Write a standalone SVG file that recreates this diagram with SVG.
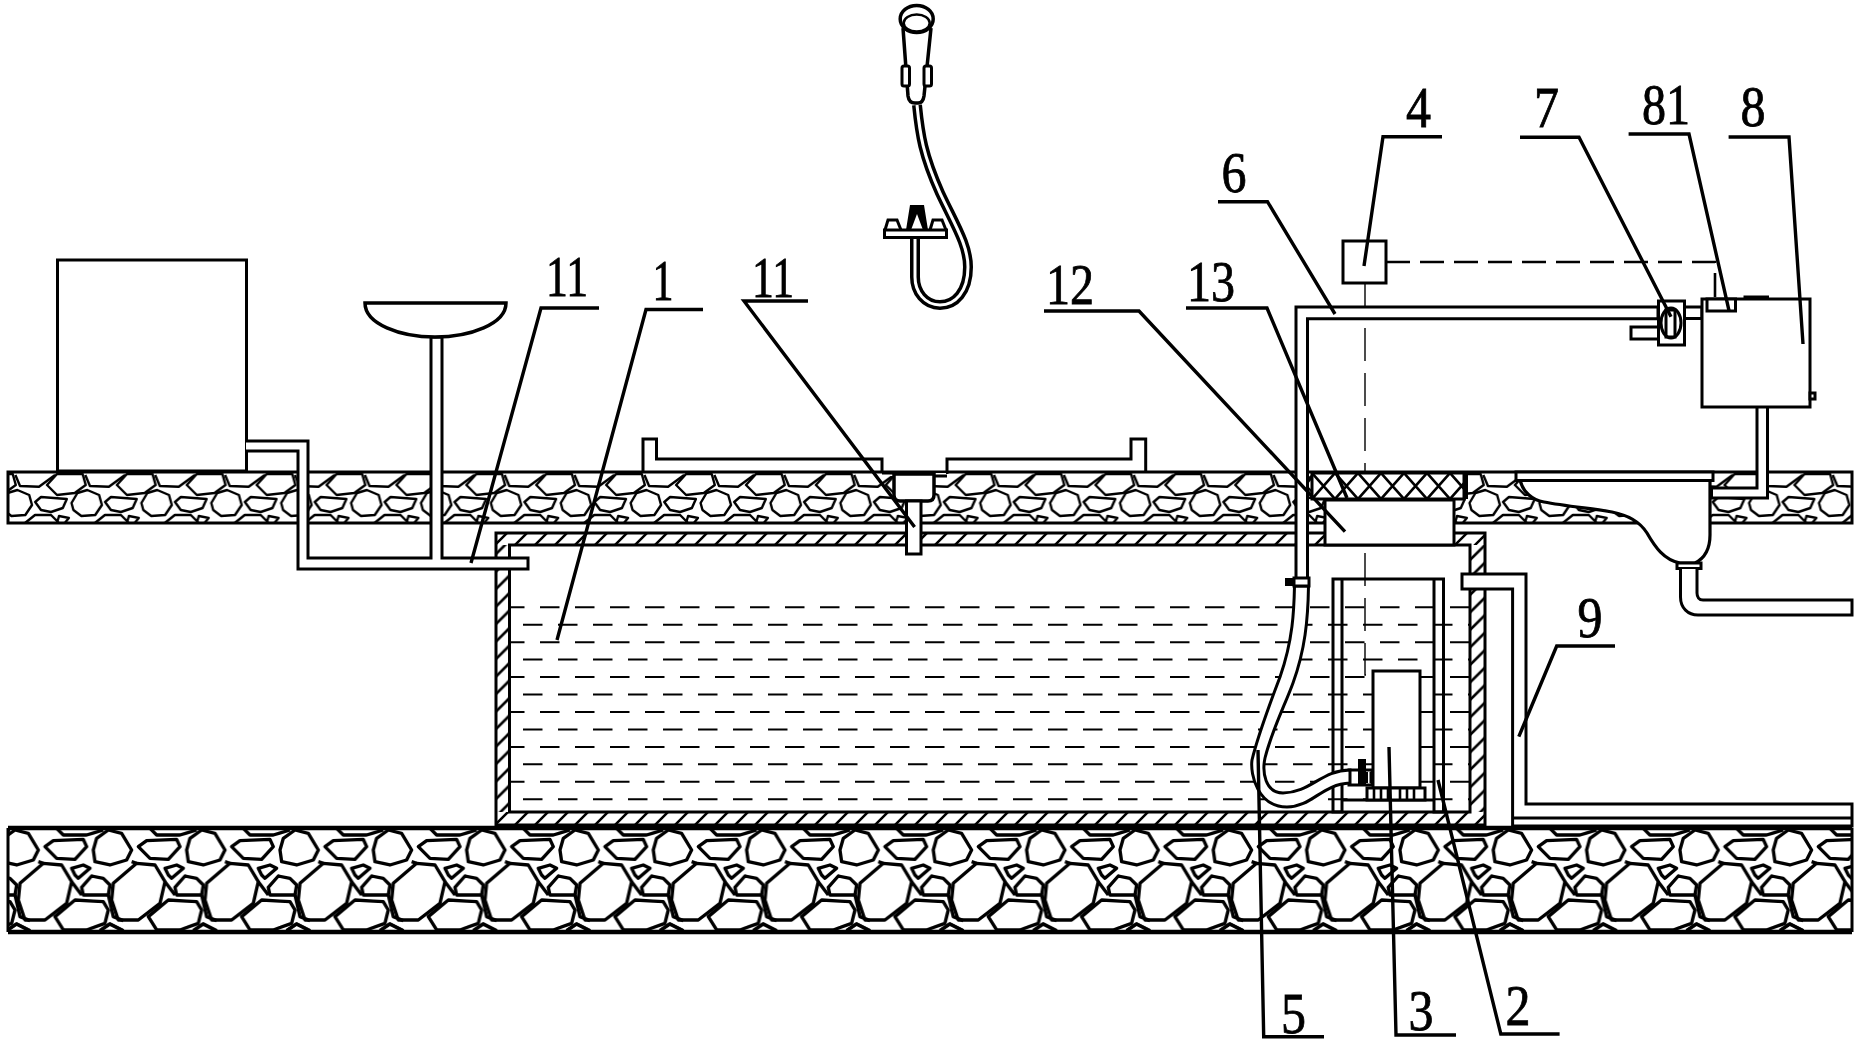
<svg xmlns="http://www.w3.org/2000/svg" width="1854" height="1047" viewBox="0 0 1854 1047">
<style>
.l{fill:none;stroke:#000;stroke-width:3;stroke-linejoin:miter}
.w{fill:#fff;stroke:#000;stroke-width:3}
.k{fill:#000;stroke:none}
.lead{fill:none;stroke:#000;stroke-width:3.4}
.t{font-family:"Liberation Serif","Times New Roman",serif;font-size:56px;text-anchor:middle;fill:#000;stroke:#000;stroke-width:.8}
.s1{fill:none;stroke:#000;stroke-width:2.4;stroke-linejoin:round}
.s2{fill:none;stroke:#000;stroke-width:10;stroke-linejoin:round}
.water{fill:none;stroke:#000;stroke-width:2;stroke-dasharray:19.5 15.5}
</style>
<defs>
<g id="tileTop" class="s1">
<polygon points="3.6,43 9.5,33 19.4,30 31.2,35 34,45 27.3,55 13.4,56 5.5,50"/>
<polygon points="37.2,42 43,37 68.8,39 64.8,48 53,52 43,50"/>
<polygon points="49,25 59,14 84.6,14 87.7,25 76.7,33 59,35"/>
<polyline points="17.4,15 22,26 41,26.7 57,15"/>
<polyline points="27,63 37,55 53,55 61,63"/>
<polyline points="59,63 61,56 70.8,58 66.8,63"/>
</g>
<g id="tileBottom" class="s2">
<polygon points="280,150 290,115 325,90 365,100 395,150 380,180 330,195 285,185"/>
<polygon points="415,140 440,122 530,118 540,140 505,178 450,175"/>
<polygon points="495,205 530,195 550,205 515,235 505,225"/>
<polygon points="340,250 410,190 465,195 495,245 480,310 415,360 355,360 335,300"/>
<polygon points="525,262 555,228 590,235 610,255 605,285 530,285"/>
<polygon points="445,350 505,300 590,305 605,330 595,370 540,390 470,390"/>
<polyline points="450,85 470,105 540,105 590,90"/>
<polyline points="495,245 525,285"/>
<polyline points="395,185 410,190"/>
<polyline points="605,285 620,350 650,362"/>
<polyline points="580,392 610,372 650,392"/>
<polyline points="300,392 330,372 370,392"/>
</g>
<pattern id="stoneTop" patternUnits="userSpaceOnUse" x="-2" y="460" width="69.9" height="70">
<use href="#tileTop"/><use href="#tileTop" x="-69.9"/><use href="#tileTop" x="69.9"/>
</pattern>
<pattern id="stoneBottom" patternUnits="userSpaceOnUse" x="0" y="800" width="93.33" height="150">
<use href="#tileBottom" transform="translate(-93.33 0) scale(.3333)"/>
<use href="#tileBottom" transform="translate(-186.67 0) scale(.3333)"/>
<use href="#tileBottom" transform="scale(.3333)"/>
</pattern>
<pattern id="hatch" patternUnits="userSpaceOnUse" x="0" y="0" width="20" height="20">
<path d="M-2,22 L22,-2 M-12,12 L12,-12 M8,32 L32,8" fill="none" stroke="#000" stroke-width="2.5"/>
</pattern>
<pattern id="hatchSide" patternUnits="userSpaceOnUse" x="0" y="0" width="17.5" height="17.5">
<path d="M-2,19.5 L19.5,-2 M-10,10 L10,-10 M8,27 L27,8" fill="none" stroke="#000" stroke-width="2.6"/>
</pattern>
<pattern id="cross" patternUnits="userSpaceOnUse" x="1312" y="473" width="23" height="26">
<path d="M0,0 L23,26 M23,0 L0,26" fill="none" stroke="#000" stroke-width="2.6"/>
</pattern>
</defs>
<rect width="1854" height="1047" fill="#fff"/>

<g id="ground-upper">
<rect x="8" y="472" width="1844" height="51" fill="url(#stoneTop)"/>
<path class="l" d="M8,472 H1852 V523 H8 Z"/>
</g>
<g id="ground-lower">
<rect x="8" y="828" width="1844" height="104" fill="url(#stoneBottom)"/>
<path d="M8,828 H1852 M8,932 H1852" fill="none" stroke="#000" stroke-width="4.5"/>
<path class="l" d="M8,828 V932 M1852,828 V932"/>
</g>

<g id="node-1">
<rect x="496" y="533" width="989" height="12" fill="url(#hatch)"/>
<rect x="496" y="812" width="989" height="13" fill="url(#hatch)"/>
<rect x="496" y="545" width="13.5" height="267" fill="url(#hatchSide)"/>
<rect x="1470" y="545" width="15" height="267" fill="url(#hatchSide)"/>
<path d="M496,533 H1485 V825 H496 Z M509.5,545 V812 H1470 V545 Z" fill="none" stroke="#000" stroke-width="3"/>
<g id="water">
<path class="water" d="M509,607.3 H1470 M509,642.2 H1470 M509,677.1 H1470 M509,712 H1470 M509,746.9 H1470 M509,781.8 H1470" stroke-dashoffset="4"/>
<path class="water" d="M509,624.7 H1470 M509,659.6 H1470 M509,694.5 H1470 M509,729.4 H1470 M509,764.3 H1470 M509,799.2 H1470" stroke-dashoffset="21"/>
</g>
</g>

<g id="node-2">
<path d="M1333,579 H1443.5 V812 H1434 V579 H1342 V812 H1333 Z" fill="none" stroke="#000" stroke-width="3"/>
<path class="l" d="M1342,800 H1434"/>
</g>

<g id="sensor-line">
<path d="M1365,283 V675 H1374" fill="none" stroke="#000" stroke-width="1.4" stroke-dasharray="33 12"/>
<path d="M1386,262 H1715 V298" fill="none" stroke="#000" stroke-width="2.6" stroke-dasharray="24 10"/>
</g>

<g id="node-3">
<rect class="w" x="1373" y="671" width="47" height="117"/>
<rect class="w" x="1367" y="788" width="58" height="12"/>
<path d="M1374,789 V799 M1381,789 V799 M1388,789 V799 M1400,789 V799 M1407,789 V799 M1414,789 V799" fill="none" stroke="#000" stroke-width="2.6"/>
<rect class="w" x="1349" y="770" width="23" height="15"/>
<rect class="k" x="1358" y="759" width="8" height="26"/>
<path d="M1367,772 V783 M1370.5,772 V783" fill="none" stroke="#000" stroke-width="2"/>
</g>

<g id="node-6">
<path class="w" d="M1296,580 V307 H1658 V318.7 H1307.5 V580"/>
</g>

<g id="node-5">
<path class="w" d="M1294.5,586 C1294,610 1293,640 1280,677 C1272,698 1258,735 1252,760 C1250,775 1258,807 1287,807 C1312,807 1322,784 1350,783 V770 C1322,770 1310,793 1283,793 C1265,793 1262,772 1265,758 C1272,730 1285,705 1293,683 C1305,650 1308,620 1308.5,586 Z"/>
<rect class="k" x="1285" y="578" width="9" height="8"/>
<rect class="w" x="1294" y="578" width="15" height="8"/>
</g>

<g id="node-9">
<path class="w" d="M1462,574 H1526 V804 H1852 V826 H1512.6 V589 H1462 Z"/>
<path d="M1512.6,818 H1852" class="l"/>
</g>

<g id="pipe-sink-left">
<rect class="w" x="57.5" y="260" width="189" height="211"/>
<path d="M246,441 H308 V558 H431 V337 H442 V558 H528 V569 H298 V451 H246" fill="#fff" stroke="#000" stroke-width="3"/>
<path d="M365,303 H506 C506,324 470,337 435,337 C400,337 365,324 365,303 Z" fill="#fff" stroke="#000" stroke-width="3.5"/>
</g>

<g id="node-11-drain">
<path class="l" d="M643,472 V439 H656.5 V459 H882 V472 M947,474 V459 H1131 V439 H1145.7 V472"/>
<rect x="883" y="473" width="63" height="3" fill="#fff"/>
<path d="M882,473 H894 M934,476 H947" class="l"/>
<path d="M894,474 H934 V495 Q934,501 928,501 H900 Q894,501 894,495 Z" fill="#fff" stroke="#000" stroke-width="3.5"/>
<rect class="w" x="906.5" y="501" width="14.5" height="53"/>
</g>

<g id="node-13">
<rect x="1312" y="473" width="152" height="26" fill="#fff"/>
<rect x="1312" y="473" width="152" height="26" fill="url(#cross)" stroke="#000" stroke-width="3"/>
<rect class="k" x="1464" y="473" width="4" height="26"/>
</g>
<g id="node-12">
<rect class="w" x="1325" y="500" width="129" height="45"/>
</g>

<g id="node-toilet">
<path d="M1520,480 C1523,492 1532,500 1544,502 C1565,506 1595,509 1612,512 C1628,515 1640,522 1647,533 C1655,547 1664,560 1680,563 H1695 C1705,558 1710,548 1710,535 V480 Z" fill="#fff" stroke="#000" stroke-width="3.2"/>
<rect class="w" x="1516" y="472" width="197" height="8.5"/>
<rect class="w" x="1677" y="563" width="24" height="5.5"/>
<path class="w" d="M1680.5,569 V597 C1680.5,608 1688,615 1698,615 H1852 V600 H1703 C1699,600 1697,597 1697,593 V569"/>
</g>

<g id="node-8">
<path class="w" d="M1757,406 V488 H1711.5 V498 H1767.5 V406 Z"/>
<rect class="w" x="1684" y="307" width="18" height="11.5"/>
<rect class="w" x="1702" y="299" width="108" height="108"/>
<path class="k" d="M1743.5,295.5 H1769 V299 H1743.5 Z"/>
<rect class="w" x="1810" y="393" width="5" height="6"/>
</g>
<g id="node-81">
<rect class="w" x="1707" y="299" width="28.5" height="12"/>
</g>
<g id="node-7">
<rect class="w" x="1631" y="327" width="28" height="12"/>
<rect class="w" x="1658.5" y="301" width="26" height="44"/>
<ellipse class="w" cx="1671" cy="323" rx="10" ry="15"/>
<rect class="l" x="1666" y="310" width="9" height="27"/>
</g>
<g id="node-4">
<rect class="w" x="1343" y="241" width="43" height="42"/>
</g>

<g id="shower">
<path d="M917,105 C920,135 923,155 940,193 C955,225 968,245 968,267 C968,292 955,305 940,305 C925,305 915,292 915,277 V237" fill="none" stroke="#000" stroke-width="10"/>
<path d="M917,105 C920,135 923,155 940,193 C955,225 968,245 968,267 C968,292 955,305 940,305 C925,305 915,292 915,277 V237" fill="none" stroke="#fff" stroke-width="3"/>
<path d="M903,28 L908,96 Q909,103 915,103 H918 Q923,103 924,96 L931,28" fill="#fff" stroke="#000" stroke-width="3.5"/>
<ellipse cx="916.7" cy="19" rx="16.5" ry="13.5" fill="#fff" stroke="#000" stroke-width="3.5"/>
<ellipse cx="916.7" cy="23" rx="13" ry="8.5" fill="#fff" stroke="#000" stroke-width="2.5"/>
<rect x="902" y="66" width="7.5" height="20" rx="2" fill="#fff" stroke="#000" stroke-width="3"/>
<rect x="924" y="66" width="7.5" height="20" rx="2" fill="#fff" stroke="#000" stroke-width="3"/>
<path d="M885,230 L888,220 H897 L901,230 M930,230 L933,220 H942 L946,230" fill="#fff" stroke="#000" stroke-width="3"/>
<path d="M906,230 L910,205 H924 L928,230 H923 L917,214 L911,230 Z" fill="#000"/>
<rect x="884.5" y="230" width="62" height="7.5" fill="#fff" stroke="#000" stroke-width="3"/>
</g>

<g id="connectors">
<polyline class="lead" points="599,308 541,308 471,563"/>
<polyline class="lead" points="703,309.5 646,309.5 557,640"/>
<polyline class="lead" points="808,301 744,301 914.6,527"/>
<polyline class="lead" points="1044,311 1139,311 1345,531.7"/>
<polyline class="lead" points="1186,308 1267,308 1347,498"/>
<polyline class="lead" points="1218,201.7 1267.5,201.7 1335,314"/>
<polyline class="lead" points="1442,136.7 1383,136.7 1364,266"/>
<polyline class="lead" points="1520,137.3 1579,137.3 1671,316.7"/>
<polyline class="lead" points="1628.6,134 1689,134 1729,310.7"/>
<polyline class="lead" points="1728.6,137 1789,137 1803,344"/>
<polyline class="lead" points="1615,646 1556.7,646 1518.8,736.7"/>
<polyline class="lead" points="1258,750 1263.7,1036.7 1324,1036.7"/>
<polyline class="lead" points="1389,747 1396,1035 1456,1035"/>
<polyline class="lead" points="1438,780 1500.8,1034 1559.6,1034"/>
</g>

<g id="labels">
<text class="t" x="567" y="296" textLength="42" lengthAdjust="spacingAndGlyphs">11</text>
<text class="t" x="663" y="300" textLength="21" lengthAdjust="spacingAndGlyphs">1</text>
<text class="t" x="773" y="297" textLength="42" lengthAdjust="spacingAndGlyphs">11</text>
<text class="t" x="1070" y="304" textLength="48" lengthAdjust="spacingAndGlyphs">12</text>
<text class="t" x="1211" y="301" textLength="48" lengthAdjust="spacingAndGlyphs">13</text>
<text class="t" x="1234" y="192" textLength="25" lengthAdjust="spacingAndGlyphs">6</text>
<text class="t" x="1418.5" y="127" textLength="25" lengthAdjust="spacingAndGlyphs">4</text>
<text class="t" x="1546.5" y="127" textLength="25" lengthAdjust="spacingAndGlyphs">7</text>
<text class="t" x="1666" y="124" textLength="48" lengthAdjust="spacingAndGlyphs">81</text>
<text class="t" x="1753" y="126" textLength="25" lengthAdjust="spacingAndGlyphs">8</text>
<text class="t" x="1590" y="637" textLength="25" lengthAdjust="spacingAndGlyphs">9</text>
<text class="t" x="1293.5" y="1033" textLength="25" lengthAdjust="spacingAndGlyphs">5</text>
<text class="t" x="1421" y="1030" textLength="25" lengthAdjust="spacingAndGlyphs">3</text>
<text class="t" x="1518" y="1025" textLength="25" lengthAdjust="spacingAndGlyphs">2</text>
</g>
</svg>
